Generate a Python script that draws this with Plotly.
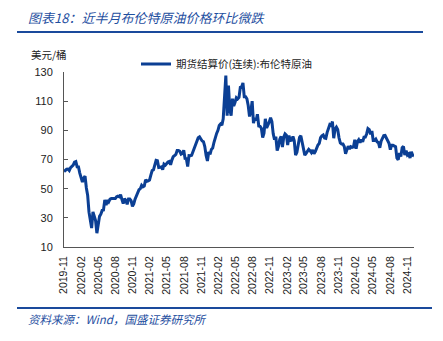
import pandas as pd
import plotly.graph_objects as go

# Weekly (Friday) Brent settle values, USD/bbl, starting 2019-11-01
brent_2019 = [61.7, 62.5, 63.3, 63.4, 62.4, 64.4, 65.2, 66.1, 68.2]
brent_2020 = [68.6, 65.0, 64.9, 60.7, 58.2,
              54.5, 57.3, 58.5, 50.5,
              45.3, 33.9, 27.0, 23.0,
              34.1, 31.5, 28.1, 19.5,
              26.4, 31.0, 32.5, 35.1, 35.3,
              42.3, 38.7, 42.2, 41.0,
              42.8, 43.2, 43.1, 43.3, 43.3,
              44.4, 44.8, 44.4, 45.8,
              42.7, 39.8, 43.2, 41.9,
              39.3, 42.9, 42.9, 41.8, 37.9,
              39.5, 42.8, 45.0, 48.2,
              49.3, 50.0, 52.3, 51.3]
brent_2021 = [51.8, 56.0, 55.1, 55.4, 55.9,
              59.3, 62.4, 62.9, 66.1,
              69.4, 69.2, 64.5, 64.6,
              64.9, 63.0, 66.8, 66.1, 67.3,
              68.3, 68.7, 66.4, 69.6,
              71.9, 72.7, 73.5, 76.2,
              76.2, 75.6, 73.6, 74.1, 76.3,
              70.7, 70.6, 65.2, 72.7,
              72.6, 72.9, 75.3, 78.1,
              79.3, 82.4, 84.9, 85.5, 83.7,
              82.7, 82.2, 78.9, 72.7,
              69.0, 75.2, 73.5, 76.9, 77.8]
brent_2022 = [81.8, 86.1, 87.9, 90.0,
              93.3, 94.4, 93.5, 97.9,
              118.0, 127.5, 100.0, 120.7,
              104.4, 100.0, 111.7, 106.7, 109.3,
              112.4, 111.6, 112.6, 119.4,
              119.7, 122.5, 113.1, 113.1,
              111.6, 107.0, 99.5, 103.2, 110.0,
              94.9, 98.2, 96.7, 101.0,
              93.0, 92.8, 91.4, 85.0, 88.0,
              97.9, 91.6, 93.5, 95.8,
              98.6, 96.0, 87.6, 83.6,
              85.6, 76.1, 79.0, 83.9, 85.9]
brent_2023 = [78.6, 85.3, 87.6, 86.7,
              79.9, 86.4, 83.0, 83.2,
              85.8, 82.8, 73.0, 75.0, 79.8,
              85.1, 86.3, 81.7, 79.5,
              73.0, 74.2, 75.6, 77.0,
              76.1, 74.8, 76.6, 73.9, 75.4,
              78.5, 79.9, 81.1, 85.0,
              86.2, 86.8, 84.8, 84.5,
              88.6, 90.7, 93.9, 93.3, 96.0,
              84.6, 90.9, 92.2, 90.5,
              84.9, 81.4, 80.6, 80.6,
              78.9, 74.0, 76.6, 79.1, 77.2]
brent_2024 = [78.8, 78.3, 78.6, 83.6,
              77.3, 82.2, 83.5, 81.6,
              83.6, 82.1, 85.3, 85.4, 87.5,
              91.2, 90.5, 87.3, 89.5,
              83.0, 83.0, 84.0, 82.1, 81.6,
              78.0, 82.6, 85.2, 86.4,
              86.5, 85.0, 82.6, 81.1,
              76.8, 79.7, 79.7, 79.0, 78.8,
              71.1, 69.8, 74.5, 72.0,
              78.1, 79.0, 73.1, 76.1,
              73.1, 73.9, 71.0, 75.2, 72.9,
              72.5]

values = brent_2019 + brent_2020 + brent_2021 + brent_2022 + brent_2023 + brent_2024
dates = pd.date_range("2019-11-01", periods=len(values), freq="W-FRI")

tick_labels = ["2019-11", "2020-02", "2020-05", "2020-08", "2020-11", "2021-02",
               "2021-05", "2021-08", "2021-11", "2022-02", "2022-05", "2022-08",
               "2022-11", "2023-02", "2023-05", "2023-08", "2023-11", "2024-02",
               "2024-05", "2024-08", "2024-11"]
tick_vals = [t + "-01" for t in tick_labels]

series_name = "期货结算价(连续):布伦特原油"
title_text = "图表18：近半月布伦特原油价格环比微跌"
source_text = "资料来源：Wind，国盛证券研究所"
unit_text = "美元/桶"

LINE = "#0b3f94"
BLUE = "#1f4f9f"
CJK = "Noto Sans CJK SC"
LAT = "Liberation Sans, Arial"

fig = go.Figure()
fig.add_trace(go.Scatter(x=dates, y=values, mode="lines", name=series_name,
                         line=dict(color=LINE, width=3)))

L, R, T, B = 64, 29, 72, 94
W, H = 443, 341
pw, ph = W - L - R, H - T - B

def px_x(x):
    return (x - L) / pw

def px_y(y):
    return (H - B - y) / ph

fig.update_layout(
    width=W, height=H,
    margin=dict(l=L, r=R, t=T, b=B),
    paper_bgcolor="white", plot_bgcolor="white",
    showlegend=True,
    legend=dict(orientation="h", x=px_x(136), xanchor="left", y=px_y(64), yanchor="middle",
                font=dict(family=CJK, size=10.5, color="#222"),
                bgcolor="rgba(0,0,0,0)", itemwidth=30),
    xaxis=dict(range=[dates[0], dates[-1]], tickvals=tick_vals, ticktext=tick_labels,
               tickangle=-90, showgrid=False, showline=True, linecolor="#555", linewidth=1,
               ticks="", tickfont=dict(family=LAT, size=10.5, color="#222"),
               ticklabelstandoff=4, zeroline=False),
    yaxis=dict(range=[10, 130], tickvals=[10, 30, 50, 70, 90, 110, 130],
               showgrid=False, showline=True, linecolor="#555", linewidth=1,
               ticks="inside", ticklen=4, tickcolor="#555",
               tickfont=dict(family=LAT, size=11, color="#222"),
               ticklabelstandoff=8, zeroline=False),
)

fig.add_annotation(text=title_text, xref="paper", yref="paper", x=px_x(26), y=px_y(17),
                   xanchor="left", yanchor="middle", showarrow=False,
                   font=dict(family=CJK, size=13, color=BLUE, style="italic"))
fig.add_annotation(text=unit_text, xref="paper", yref="paper", x=px_x(29), y=px_y(55),
                   xanchor="left", yanchor="middle", showarrow=False,
                   font=dict(family=CJK, size=10.5, color="#222"))
fig.add_annotation(text=source_text, xref="paper", yref="paper", x=px_x(26), y=px_y(319),
                   xanchor="left", yanchor="middle", showarrow=False,
                   font=dict(family=CJK, size=11.5, color=BLUE, style="italic"))
fig.add_shape(type="line", xref="paper", yref="paper", x0=px_x(17), x1=px_x(423),
              y0=px_y(32), y1=px_y(32), line=dict(color="#1a4a9c", width=2))
fig.add_shape(type="line", xref="paper", yref="paper", x0=px_x(17), x1=px_x(432),
              y0=px_y(308), y1=px_y(308), line=dict(color="#1a4a9c", width=2))

fig.write_html("out.html")
